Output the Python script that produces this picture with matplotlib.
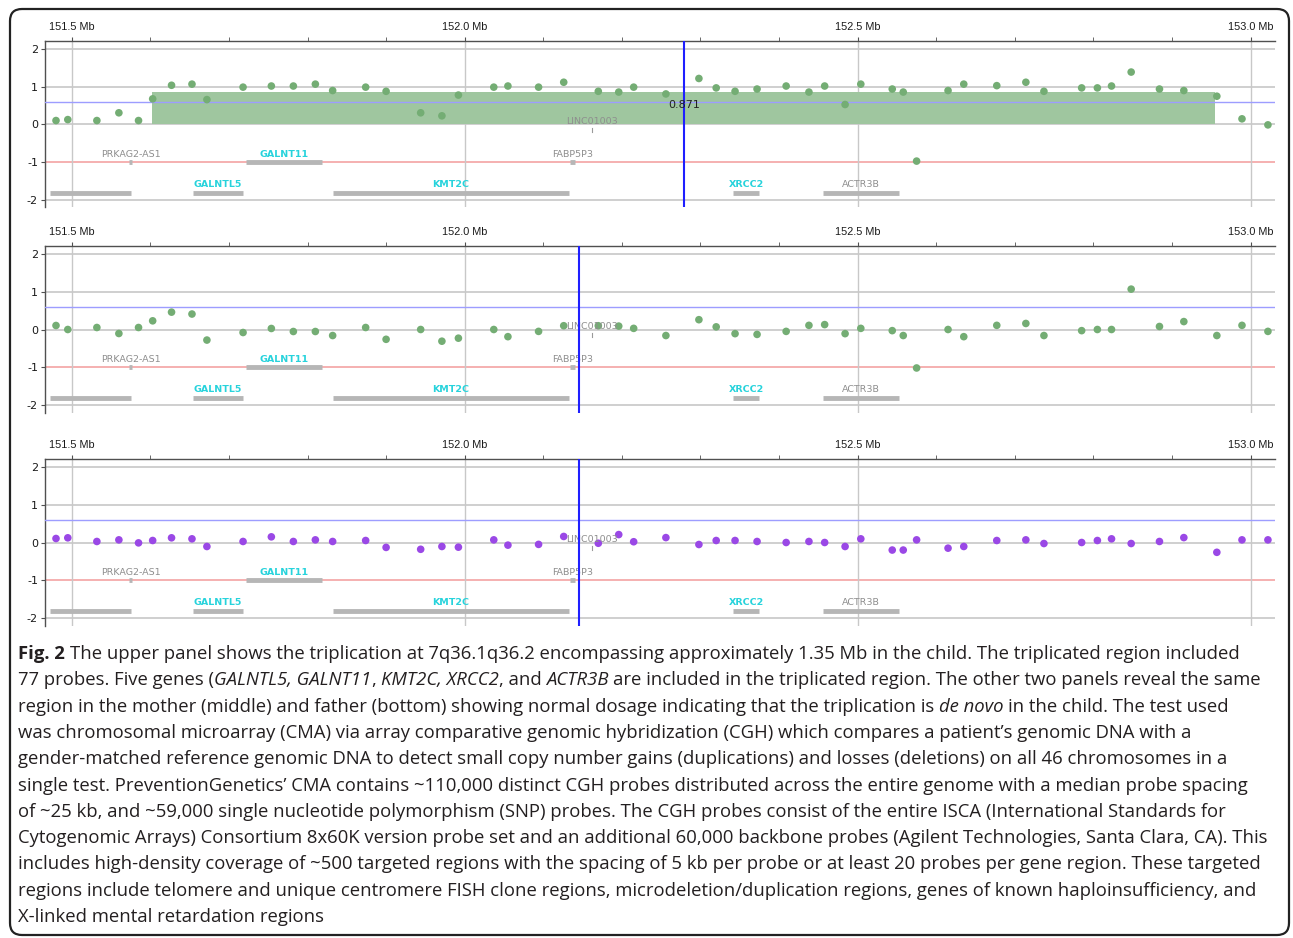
import numpy as np
import matplotlib
matplotlib.use('Agg')
import matplotlib.pyplot as plt
from matplotlib.patches import Rectangle, FancyBboxPatch
from matplotlib.transforms import IdentityTransform

plt.rcParams['axes.unicode_minus'] = False

# probe positions (Mb), shared by the three arrays
positions = [151.480, 151.495, 151.532, 151.560, 151.585, 151.603, 151.627, 151.653, 151.672,
             151.718, 151.754, 151.782, 151.810, 151.832, 151.874, 151.900, 151.944, 151.971,
             151.992, 152.037, 152.055, 152.094, 152.126, 152.170, 152.196, 152.215, 152.256,
             152.298, 152.320, 152.344, 152.372, 152.409, 152.438, 152.458, 152.484, 152.504,
             152.544, 152.558, 152.575, 152.615, 152.635, 152.677, 152.714, 152.737, 152.785,
             152.805, 152.823, 152.848, 152.884, 152.915, 152.957, 152.989, 153.022]

# log ratios: child (top), mother (middle), father (bottom)
child = [0.105, 0.13, 0.105, 0.31, 0.105, 0.68, 1.04, 1.07, 0.66, 0.99, 1.02, 1.02, 1.07, 0.90,
         0.99, 0.88, 0.31, 0.23, 0.78, 0.99, 1.02, 0.99, 1.12, 0.88, 0.86, 0.99, 0.81, 1.22,
         0.97, 0.88, 0.94, 1.02, 0.86, 1.02, 0.53, 1.07, 0.94, 0.86, -0.97, 0.90, 1.07, 1.03,
         1.12, 0.88, 0.97, 0.97, 1.02, 1.39, 0.94, 0.90, 0.75, 0.15, -0.01]
mother = [0.106, 0.0, 0.053, -0.106, 0.053, 0.23, 0.46, 0.41, -0.28, -0.08, 0.027, -0.053,
          -0.053, -0.16, 0.053, -0.26, 0.0, -0.31, -0.23, 0.0, -0.19, -0.05, 0.10, 0.10, 0.09,
          0.03, -0.16, 0.26, 0.07, -0.11, -0.13, -0.05, 0.11, 0.13, -0.11, 0.03, -0.03, -0.16,
          -1.02, 0.0, -0.19, 0.11, 0.16, -0.16, -0.03, 0.0, 0.0, 1.07, 0.08, 0.21, -0.16, 0.11,
          -0.05]
father = [0.106, 0.124, 0.027, 0.07, -0.01, 0.053, 0.124, 0.097, -0.106, 0.027, 0.15, 0.027,
          0.07, 0.027, 0.053, -0.13, -0.18, -0.106, -0.124, 0.07, -0.07, -0.05, 0.16, -0.02,
          0.21, 0.02, 0.13, -0.053, 0.053, 0.053, 0.027, 0.0, 0.027, 0.0, -0.106, 0.097, -0.2,
          -0.2, 0.07, -0.15, -0.106, 0.053, 0.07, -0.027, 0.0, 0.053, 0.097, -0.027, 0.027,
          0.13, -0.26, 0.07, 0.07]

# triplicated segment called in the child
gain_start, gain_end, gain_value = 151.602, 152.955, 0.871
cursor_pos = [152.279, 152.146, 152.146]

# gene track: name, start, end, row, label colour kind
gene_names = ['PRKAG2-AS1', 'GALNT11', 'FABP5P3', '', 'GALNTL5', 'KMT2C', 'XRCC2', 'ACTR3B']
gene_start = [151.5735, 151.722, 152.1335, 151.472, 151.654, 151.832, 152.342, 152.456]
gene_end = [151.5765, 151.819, 152.1405, 151.575, 151.718, 152.133, 152.374, 152.552]
gene_row = [1, 1, 1, 2, 2, 2, 2, 2]
gene_kind = ['other', 'coding', 'other', 'other', 'coding', 'coding', 'coding', 'other']
linc_name, linc_pos = 'LINC01003', 152.162

major_ticks = [151.5, 152.0, 152.5, 153.0]
major_labels = ['151.5 Mb', '152.0 Mb', '152.5 Mb', '153.0 Mb']

caption = [
    [("Fig. 2", 'b'), (" The upper panel shows the triplication at 7q36.1q36.2 encompassing approximately 1.35 Mb in the child. The triplicated region included", 'n')],
    [("77 probes. Five genes (", 'n'), ("GALNTL5, GALNT11", 'i'), (", ", 'n'), ("KMT2C, XRCC2", 'i'), (", and ", 'n'), ("ACTR3B", 'i'),
     (" are included in the triplicated region. The other two panels reveal the same", 'n')],
    [("region in the mother (middle) and father (bottom) showing normal dosage indicating that the triplication is ", 'n'), ("de novo", 'i'),
     (" in the child. The test used", 'n')],
    [("was chromosomal microarray (CMA) via array comparative genomic hybridization (CGH) which compares a patient\u2019s genomic DNA with a", 'n')],
    [("gender-matched reference genomic DNA to detect small copy number gains (duplications) and losses (deletions) on all 46 chromosomes in a", 'n')],
    [("single test. PreventionGenetics\u2019 CMA contains ~110,000 distinct CGH probes distributed across the entire genome with a median probe spacing", 'n')],
    [("of ~25 kb, and ~59,000 single nucleotide polymorphism (SNP) probes. The CGH probes consist of the entire ISCA (International Standards for", 'n')],
    [("Cytogenomic Arrays) Consortium 8x60K version probe set and an additional 60,000 backbone probes (Agilent Technologies, Santa Clara, CA). This", 'n')],
    [("includes high-density coverage of ~500 targeted regions with the spacing of 5 kb per probe or at least 20 probes per gene region. These targeted", 'n')],
    [("regions include telomere and unique centromere FISH clone regions, microdeletion/duplication regions, genes of known haploinsufficiency, and", 'n')],
    [("X-linked mental retardation regions", 'n')],
]
# where each caption line ends in the reference (px)
caption_ends = [1255, 1277, 1267, 1200, 1240, 1275, 1246, 1272, 1268, 1240, 320]

W, H = 1293, 938
fig = plt.figure(figsize=(W / 100, H / 100), dpi=100)

def px_rect(left, top, right, bottom):
    return [left / W, 1 - bottom / H, (right - left) / W, (bottom - top) / H]

panels = [(41.5, child, '#74ad74', True), (246.5, mother, '#74ad74', False), (459.5, father, '#9a48e6', False)]
label_col = {'coding': '#27d3dc', 'other': '#8e8e8e'}

for i, (top, vals, col, show_gain) in enumerate(panels):
    ax = fig.add_axes(px_rect(45, top, 1275, top + 166))
    ax.set_xlim(151.466, 153.031)
    ax.set_ylim(-2.2, 2.2)
    for s in ['bottom', 'right']:
        ax.spines[s].set_visible(False)
    for s in ['top', 'left']:
        ax.spines[s].set_color('#505050')
        ax.spines[s].set_linewidth(1.0)
    ax.xaxis.tick_top()
    ax.set_xticks(major_ticks)
    ax.set_xticklabels(major_labels)
    ax.set_xticks(np.arange(151.5, 153.05, 0.1), minor=True)
    ax.tick_params(axis='x', which='both', length=3, color='#505050', labelsize=7.8, pad=4, labelcolor='#1a1a1a')
    ax.set_yticks([-2, -1, 0, 1, 2])
    ax.tick_params(axis='y', length=3, color='#505050', labelsize=8, pad=2, labelcolor='#1a1a1a')
    for lab in ax.get_xticklabels():
        lab.set_family('Liberation Sans')

    for v in [2, 1, 0, -2]:
        ax.axhline(v, color='#cfcfcf', lw=1.4, zorder=1)
    ax.axhline(-1, color='#f3a3a3', lw=1.2, zorder=1)
    ax.axhline(0.587, color='#9d9dff', lw=1.0, zorder=3)
    for v in major_ticks:
        ax.axvline(v, color='#c8c8c8', lw=1.0, zorder=1)

    if show_gain:
        ax.add_patch(Rectangle((gain_start, 0), gain_end - gain_start, gain_value,
                               facecolor='#9fc69f', edgecolor='none', zorder=2))

    # gene track
    for name, gs, ge, row, kind in zip(gene_names, gene_start, gene_end, gene_row, gene_kind):
        yb = -1.0 if row == 1 else -1.82
        yl = -0.79 if row == 1 else -1.6
        ax.plot([gs, ge], [yb, yb], color='#b6b6b6', lw=3.5, solid_capstyle='butt', zorder=3)
        if name:
            ax.text((gs + ge) / 2, yl, name, ha='center', va='center', fontsize=6.8,
                    color=label_col[kind], fontweight='bold' if kind == 'coding' else 'normal',
                    family='DejaVu Sans', zorder=6)
    ax.plot([linc_pos, linc_pos], [-0.2, -0.1], color='#9a9a9a', lw=0.8, zorder=3)
    ax.text(linc_pos, 0.09, linc_name, ha='center', va='center', fontsize=6.8, color='#8e8e8e',
            family='DejaVu Sans', zorder=6)

    ax.scatter(positions, vals, s=30, color=col, edgecolors='none', zorder=5)
    ax.axvline(cursor_pos[i], color='#1f1fff', lw=1.5, zorder=7)
    if show_gain:
        ax.text(cursor_pos[i], 0.53, f'{gain_value:.3f}', ha='center', va='center', fontsize=8,
                color='#222222', zorder=8)

# rounded frame
frame = FancyBboxPatch((10, H - 935), 1279, 926, boxstyle='round,pad=0,rounding_size=12',
                       transform=IdentityTransform(), fill=False, edgecolor='#222222', lw=1.6)
fig.add_artist(frame)

# caption, drawn segment by segment so bold and italic parts sit inline
renderer = fig.canvas.get_renderer()
cap_font = 'Open Sans'

def style_kw(style, fs):
    kw = dict(fontsize=fs, family=cap_font, color='#231f20', va='baseline', ha='left',
              transform=IdentityTransform())
    if style == 'b':
        kw['fontweight'] = 'bold'
    if style == 'i':
        kw['fontstyle'] = 'italic'
    return kw

def text_width(s, kw):
    t = fig.text(0, 0, s, **kw)
    w = t.get_window_extent(renderer).width
    t.remove()
    return w

def draw_line(segs, x0, y, fs, draw=True):
    x = x0
    for s, style in segs:
        kw = style_kw(style, fs)
        sp = text_width('x x', kw) - text_width('xx', kw)
        core = s.strip(' ')
        x += (len(s) - len(s.lstrip(' '))) * sp
        if core:
            if draw:
                t = fig.text(x, H - y, core, **kw)
                x += t.get_window_extent(renderer).width
            else:
                x += text_width(core, kw)
        x += (len(s) - len(s.rstrip(' '))) * sp
    return x

# one font size for the whole caption: the largest that keeps every line near its reference end
fs0 = 12.0
fs = min(fs0 * (caption_ends[k] + 6 - 18) / draw_line(caption[k], 0, 0, fs0, draw=False)
         for k in range(10))
for k, segs in enumerate(caption):
    draw_line(segs, 18, 659 + k * 26.3, fs)

fig.savefig('out.png', dpi=100)
